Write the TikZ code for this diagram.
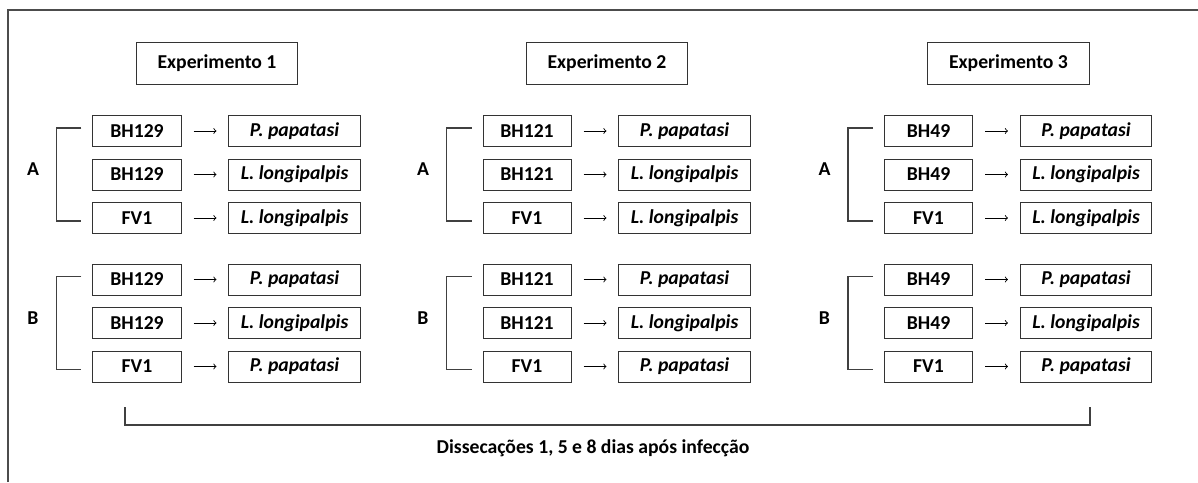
\documentclass[tikz,border=0pt]{standalone}
\usepackage{fontspec}
\setmainfont{Carlito}
\begin{document}
\begin{tikzpicture}[x=0.025cm,y=-0.025cm,font=\fontsize{14}{16}\selectfont\bfseries]
	\tikzset{
		head/.style={shape=rectangle,draw=black!80,line width=0.7pt,minimum width=4.025cm,minimum height=1.05cm},
		strain/.style={shape=rectangle,draw=black!80,line width=0.7pt,minimum width=2.2cm,minimum height=0.775cm,inner sep=0pt},
		species/.style={strain,minimum width=3.275cm,font=\fontsize{14}{16}\selectfont\bfseries\itshape},
		arr/.style={->,line width=0.6pt,shorten >=0.3cm,shorten <=0.3cm},
		brace/.style={draw=black!75,line width=0.8pt}
	}
	\useasboundingbox (0,0) rectangle (1198,482);
	\draw[draw=black!70,line width=1pt] (8,482) -- (8,10) -- (1198,10);

	\foreach \col/\x/\s in {1/137/BH129, 2/527/BH121, 3/928.5/BH49}{
		\node[head] (e\col) at (\x+80,63) {Experimento \col};

		\node[strain] (s\col-1) at (\x,131) {\s};
		\node[strain] (s\col-2) at (\x,174.5) {\s};
		\node[strain] (s\col-3) at (\x,218) {FV1};
		\node[strain] (s\col-4) at (\x,279.5) {\s};
		\node[strain] (s\col-5) at (\x,323) {\s};
		\node[strain] (s\col-6) at (\x,366.5) {FV1};

		\node[species] (p\col-1) at (\x+157.5,131) {P. papatasi};
		\node[species] (p\col-2) at (\x+157.5,174.5) {L. longipalpis};
		\node[species] (p\col-3) at (\x+157.5,218) {L. longipalpis};
		\node[species] (p\col-4) at (\x+157.5,279.5) {P. papatasi};
		\node[species] (p\col-5) at (\x+157.5,323) {L. longipalpis};
		\node[species] (p\col-6) at (\x+157.5,366.5) {P. papatasi};

		\foreach \r in {1,...,6}
			\draw[arr] (s\col-\r) -- (p\col-\r);

		\node (a\col) at (\x-104,169.5) {A};
		\node (b\col) at (\x-104,318) {B};
		\draw[brace] ([shift={(-11,-3)}]s\col-1.west) -- ++(-25,0) |- ([shift={(-11,3)}]s\col-3.west);
		\draw[brace] ([shift={(-11,-3)}]s\col-4.west) -- ++(-25,0) |- ([shift={(-11,3)}]s\col-6.west);
	}

	\coordinate (d1) at (125,407);
	\coordinate (d2) at (1090,407);
	\draw[brace] (d1) -- ++(0,18) -| (d2);
	\node (diss) at (593,448) {Dissecações 1, 5 e 8 dias após infecção};
\end{tikzpicture}
\end{document}
